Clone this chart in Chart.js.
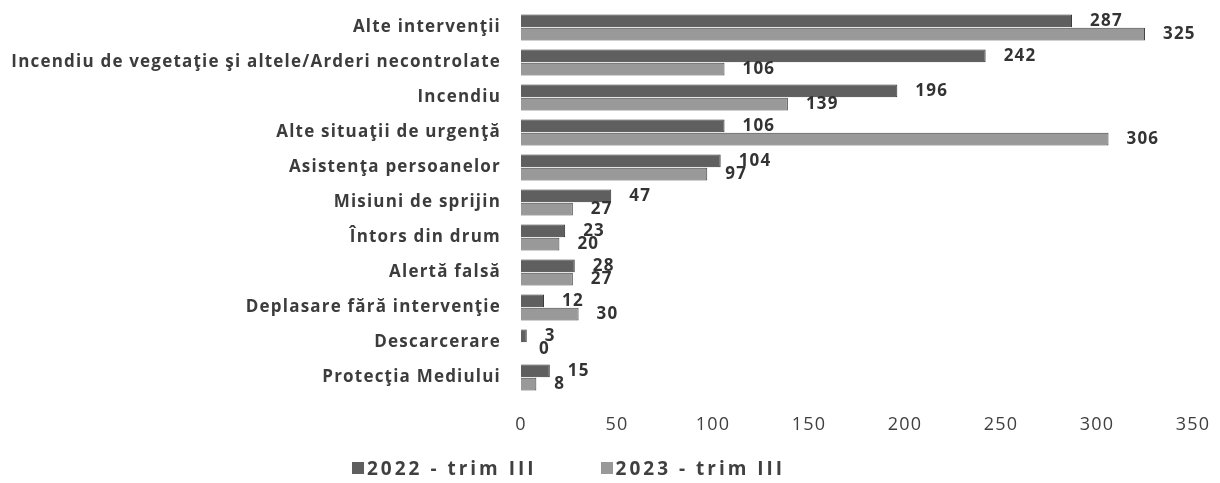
<!DOCTYPE html>
<html>
<head>
<meta charset="utf-8">
<script src="https://cdn.jsdelivr.net/npm/chart.js@4/dist/chart.umd.min.js"></script>
<style>
  html, body { margin: 0; padding: 0; background: #fff; overflow: hidden; }
  #wrap { width: 1220px; height: 483px; position: relative; }
  #legend {
    position: absolute; left: 352px; top: 455px;
    display: flex; align-items: center;
    font: bold 19px "Open Sans"; letter-spacing: 3px; color: #404040;
    white-space: nowrap;
  }
  #legend .item { display: flex; align-items: center; margin-right: 64px; }
  #legend .box { width: 12px; height: 12px; margin-right: 3px; }
</style>
</head>
<body>
<div id="wrap">
  <canvas id="interventiiChart" width="1220" height="483"></canvas>
  <div id="legend"></div>
</div>
<script>
var categories = [
  "Alte intervenţii",
  "Incendiu de vegetaţie şi altele/Arderi necontrolate",
  "Incendiu",
  "Alte situaţii de urgenţă",
  "Asistenţa persoanelor",
  "Misiuni de sprijin",
  "Întors din drum",
  "Alertă falsă",
  "Deplasare fără intervenţie",
  "Descarcerare",
  "Protecţia Mediului"
];
var trim2022 = [287, 242, 196, 106, 104, 47, 23, 28, 12, 3, 15];
var trim2023 = [325, 106, 139, 306, 97, 27, 20, 27, 30, 0, 8];
var xTicks = [0, 50, 100, 150, 200, 250, 300, 350];

// the scanned original has wide lettering
var spacing = {
  id: "spacing",
  beforeLayout: function (chart) { chart.ctx.letterSpacing = "1.2px"; },
  beforeDraw: function (chart) { chart.ctx.letterSpacing = "1.2px"; }
};

// value labels at the end of each bar
var barLabels = {
  id: "barLabels",
  afterDatasetsDraw: function (chart) {
    var ctx = chart.ctx;
    ctx.save();
    ctx.font = "bold 17px 'Open Sans'";
    ctx.fillStyle = "#333";
    ctx.textAlign = "left";
    ctx.textBaseline = "middle";
    chart.data.datasets.forEach(function (ds, i) {
      var meta = chart.getDatasetMeta(i);
      meta.data.forEach(function (bar, j) {
        ctx.fillText(ds.data[j], bar.x + 18, bar.y);
      });
    });
    ctx.restore();
  }
};

// legend as html below the canvas
var htmlLegend = {
  id: "htmlLegend",
  afterUpdate: function (chart) {
    var box = document.getElementById("legend");
    box.innerHTML = "";
    chart.data.datasets.forEach(function (ds) {
      var item = document.createElement("span");
      item.className = "item";
      var sw = document.createElement("span");
      sw.className = "box";
      sw.style.background = ds.backgroundColor;
      item.appendChild(sw);
      item.appendChild(document.createTextNode(ds.label));
      box.appendChild(item);
    });
  }
};

var ctx1 = document.getElementById("interventiiChart").getContext("2d");
var interventiiChart = new Chart(ctx1, {
  type: "bar",
  data: {
    labels: categories,
    datasets: [
      {
        label: "2022 - trim III",
        data: trim2022,
        backgroundColor: "#5f5f5f",
        borderColor: "#333",
        borderWidth: 1,
        barPercentage: 0.95,
        categoryPercentage: 0.76
      },
      {
        label: "2023 - trim III",
        data: trim2023,
        backgroundColor: "#999999",
        borderColor: "#444",
        borderWidth: 1,
        barPercentage: 0.95,
        categoryPercentage: 0.76
      }
    ]
  },
  options: {
    indexAxis: "y",
    responsive: false,
    animation: false,
    layout: { padding: { top: 10, right: 27, left: 0, bottom: 43 } },
    plugins: {
      legend: { display: false },
      tooltip: { enabled: false }
    },
    scales: {
      x: {
        min: 0,
        max: 350,
        afterBuildTicks: function (scale) {
          scale.ticks = xTicks.map(function (v) { return { value: v }; });
        },
        afterFit: function (scale) {
          scale.height = 45;
          scale.paddingLeft = 0;
          scale.paddingRight = 0;
        },
        grid: { display: false, drawTicks: false },
        border: { display: false },
        ticks: {
          padding: 19,
          color: "#404040",
          font: { family: "Open Sans", size: 18 }
        }
      },
      y: {
        grid: { display: false, drawTicks: false },
        border: { display: false },
        afterFit: function (scale) {
          scale.width = 521;
          scale.paddingTop = 0;
          scale.paddingBottom = 0;
        },
        ticks: {
          padding: 20,
          color: "#3c3c3c",
          font: { family: "Open Sans", size: 17, weight: "bold" }
        }
      }
    }
  },
  plugins: [spacing, barLabels, htmlLegend]
});
</script>
</body>
</html>
